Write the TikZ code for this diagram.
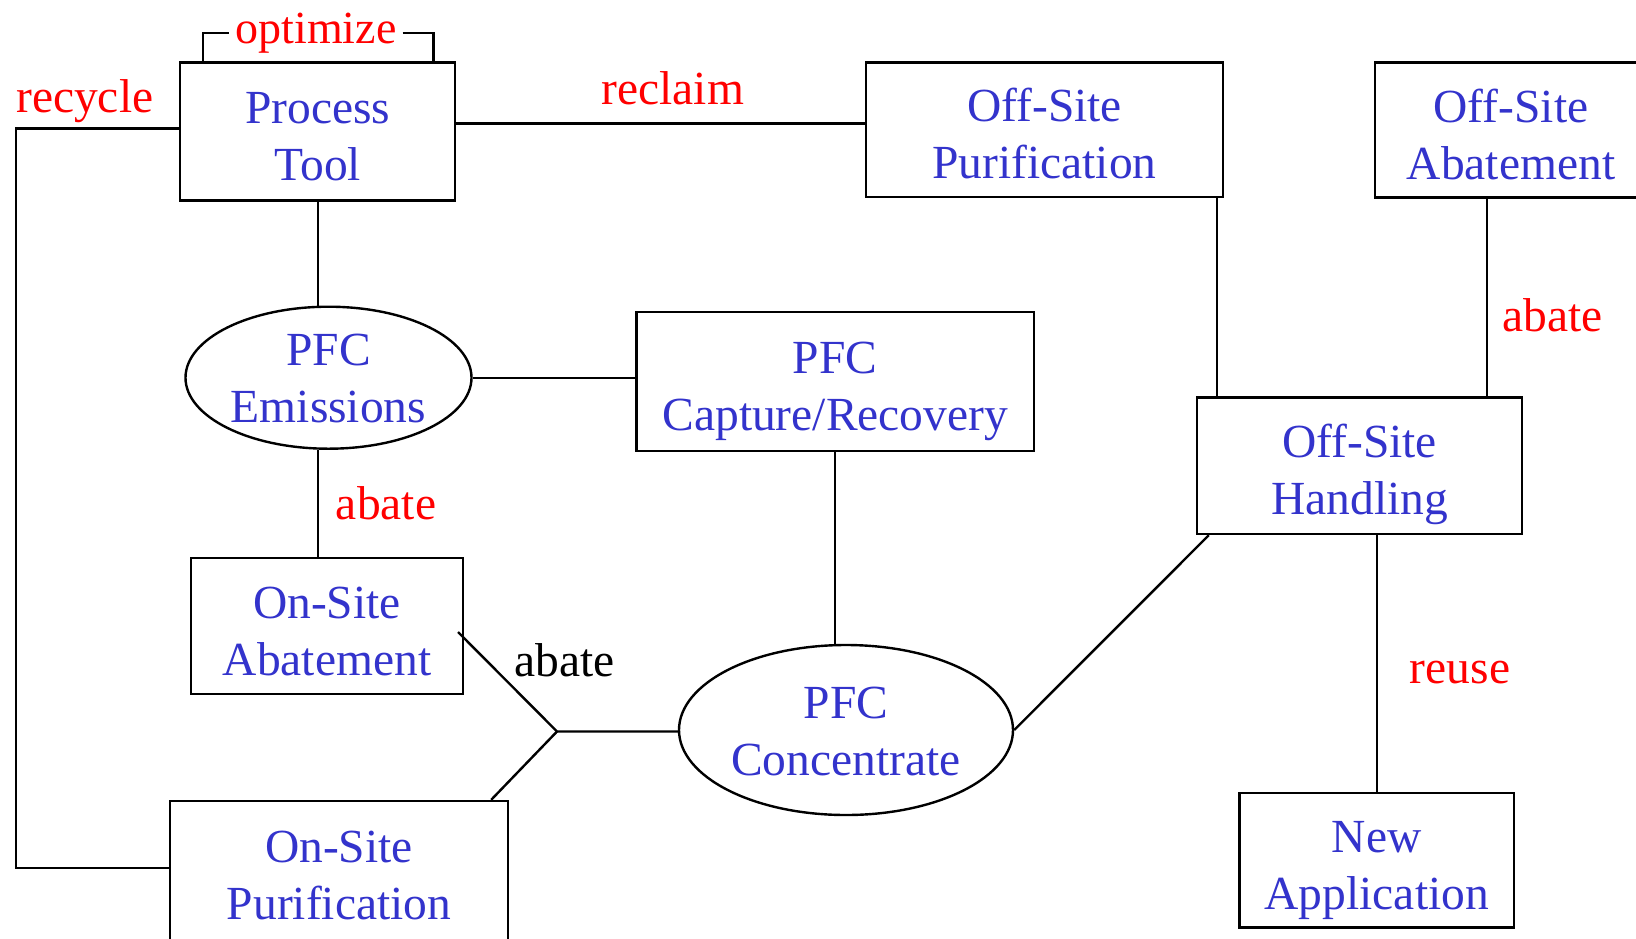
\documentclass[tikz,border=0pt]{standalone}
\usepackage{fontspec}
\setmainfont{Liberation Serif}
\usepackage{tikz}
\usetikzlibrary{shapes.geometric, calc}
\usepackage{xcolor}
\definecolor{stageblue}{RGB}{51,51,204}
\definecolor{tagred}{RGB}{255,0,0}
\newcommand{\diagfont}{\fontsize{47.5pt}{57pt}\selectfont}
\newcommand{\optfont}{\fontsize{46pt}{52pt}\selectfont}

\begin{document}
\begin{tikzpicture}[x=1pt, y=-1pt, line width=2.4pt,
    stage/.style={draw, rectangle, align=center, inner sep=0pt, text=stageblue, font=\diagfont,
      text height=98pt, text depth=0pt},
    pool/.style={draw, ellipse, align=center, inner sep=0pt, text=stageblue, font=\diagfont,
      text height=94pt, text depth=4pt},
    tag/.style={inner sep=0pt, text=tagred, font=\diagfont}]
  \useasboundingbox (0,0) rectangle (1636,938);
  \fill[white] (0,0) rectangle (1636,938);

  % Stages
  \node[stage, minimum width=275pt, minimum height=138pt] (tool) at (317.75,131.3) {Process\\Tool};
  \node[stage, minimum width=357pt, minimum height=134.5pt] (offpur) at (1044.5,129.8) {Off-Site\\Purification};
  \node[stage, minimum width=272pt, minimum height=135pt] (offab) at (1511,130) {Off-Site\\Abatement};
  \node[stage, minimum width=325pt, minimum height=136.5pt] (offhand) at (1359.5,465.75) {Off-Site\\Handling};
  \node[pool, minimum width=286pt, minimum height=142pt] (emis) at (328.5,377.7) {PFC\\Emissions};
  \node[stage, minimum width=397.5pt, minimum height=139pt] (capture) at (835.25,381.5) {PFC\\Capture/Recovery};
  \node[stage, minimum width=272pt, minimum height=136pt] (onab) at (327,626) {On-Site\\Abatement};
  \node[pool, minimum width=334pt, minimum height=170pt] (conc) at (846,730) {PFC\\Concentrate};
  \node[stage, minimum width=338pt, minimum height=150pt, text height=92pt, text depth=6pt]
    (onpur) at (339,876) {On-Site\\Purification};
  \node[stage, minimum width=274.5pt, minimum height=134.5pt] (newapp) at (1376.75,860.25) {New\\Application};

  % Process tool loops
  \node[tag, font=\optfont, inner xsep=5pt] (optimize) at (316,32.7) {optimize};
  \draw ([xshift=24pt]tool.north west) |- (optimize.west);
  \draw (optimize.east) -| ([xshift=-23pt]tool.north east);

  \node[tag, anchor=base west] (recycle) at (15,112) {recycle};
  \draw ([yshift=3pt]tool.west) -- ++(-163,0) |- ([yshift=8pt]onpur.west);

  \coordinate (reclaimstart) at ([yshift=8pt]tool.east);
  \draw (reclaimstart) -- (reclaimstart -| offpur.west)
    node[tag, pos=0.53, above=17pt] {reclaim};

  % On-site branch
  \draw (tool.south) -- (tool.south |- emis.north);
  \draw (emis.east) -- (emis.east -| capture.west);
  \draw (tool.south |- emis.south) -- (tool.south |- onab.north)
    node[tag, midway, right=17pt] {abate};
  \draw (capture.south) -- (capture.south |- conc.north);

  % Junction into concentrate
  \coordinate (join) at (557,731.5);
  \coordinate (abfoot) at (458,632);
  \draw (abfoot) -- (join) -- (join -| conc.west);
  \draw (join) -- ([xshift=-18pt]onpur.north east);
  \node[inner sep=0pt, font=\diagfont] (abatejoin) at (564.5,660.5) {abate};

  % Off-site branch
  \draw (conc.east) -- ([xshift=13pt]offhand.south west);
  \coordinate (purdrop) at ([xshift=-7.5pt]offpur.south east);
  \draw (purdrop) -- (purdrop |- offhand.north);
  \coordinate (abdrop) at ([xshift=-24pt]offab.south);
  \draw (abdrop) -- (abdrop |- offhand.north)
    node[tag, pos=0.59, right=14pt] {abate};
  \draw (newapp.north) -- (newapp.north |- offhand.south)
    node[tag, pos=0.465, right=32pt] {reuse};
\end{tikzpicture}
\end{document}
